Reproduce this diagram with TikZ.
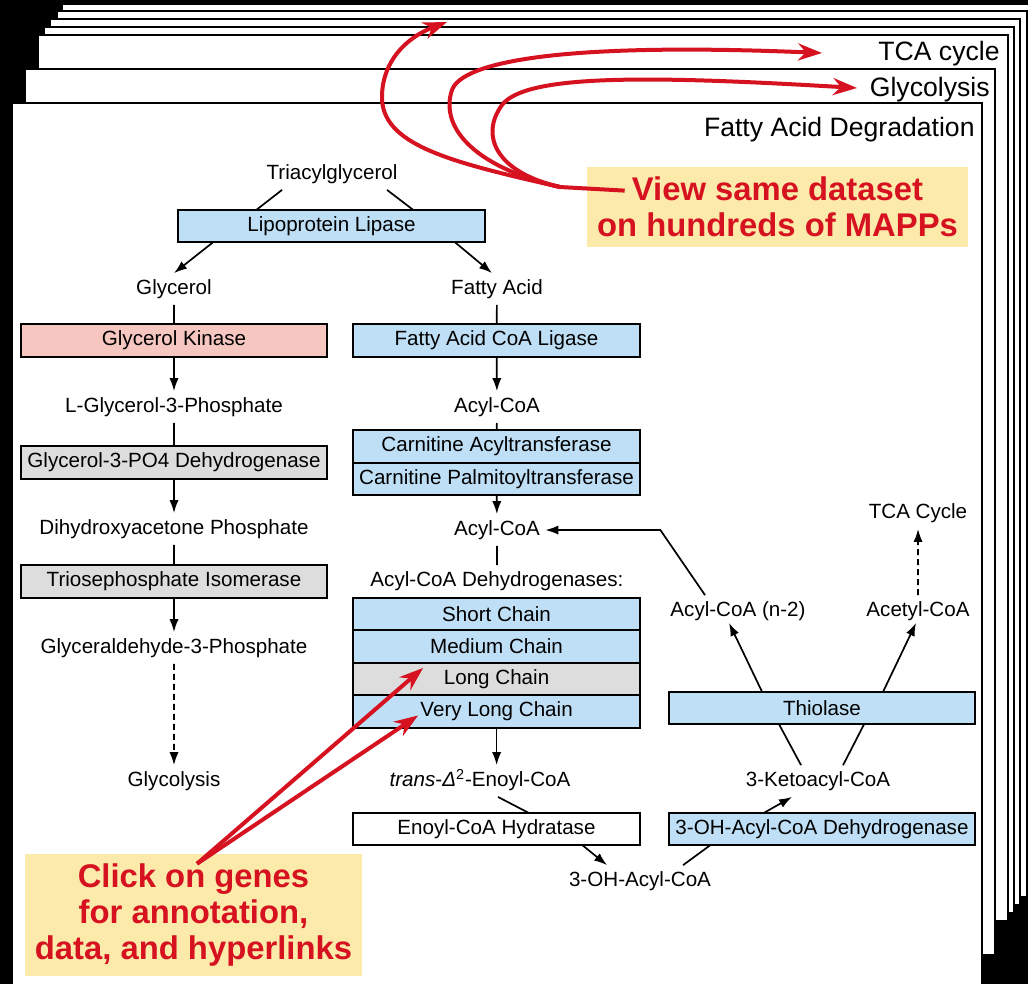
\documentclass[tikz,border=0pt]{standalone}
\usepackage{fontspec}
\setmainfont{Liberation Sans}
\usetikzlibrary{arrows.meta,positioning,calc}

\definecolor{enzblue}{RGB}{190,223,245}
\definecolor{enzpink}{RGB}{246,198,192}
\definecolor{enzgray}{RGB}{221,221,221}
\definecolor{notered}{RGB}{214,18,32}
\definecolor{noteyellow}{RGB}{252,234,170}

\tikzset{
  lbl/.style={font=\fontsize{10.3}{12}\selectfont, inner sep=2.5pt, text height=8pt, text depth=2.5pt},
  enz/.style={draw, line width=1pt, outer sep=0pt, inner sep=0pt, minimum height=16.25pt, font=\fontsize{10.3}{12}\selectfont},
  enzL/.style={enz, minimum width=153pt},
  enzR/.style={enz, minimum width=143.5pt},
  rxn/.style={line width=0.85pt},
  rxnarr/.style={line width=0.85pt, -{Latex[length=6.5pt,width=4.6pt]}},
  page/.style={fill=white, draw=black, line width=1pt},
  pagetitle/.style={font=\fontsize{13.3}{16}\selectfont, anchor=east, inner sep=0pt, text height=10pt, text depth=3pt},
  note/.style={fill=noteyellow, text=notered, font=\fontsize{16.4}{17.8}\selectfont\bfseries, align=center, inner sep=0pt},
  notearr/.style={draw=notered, line width=2pt, -{Stealth[length=12pt,width=8.5pt]}},
}

\begin{document}
\begin{tikzpicture}[x=0.75pt,y=0.75pt,yscale=-0.6667,xscale=0.6667]
\path[use as bounding box] (0,0) rectangle (1028,984);
\clip (0,0) rectangle (1028,984);
\fill[black] (0,0) rectangle (1028,984);

%Shape: Rectangle (stack of pages)
\draw[page] (62,4) rectangle ++(970,886);
\draw[page] (57,11) rectangle ++(970,886);
\draw[page] (50,19) rectangle ++(970,886);
\draw[page] (44,27) rectangle ++(970,886);
\draw[page] (38,35) rectangle ++(970,886);
\draw[page] (25,69) rectangle ++(970,886);
\draw[page] (12,103) rectangle ++(970,886);

% Text Node
\node[pagetitle] (tcatitle) at (1000,53) {TCA cycle};
% Text Node
\node[pagetitle] (glytitle) at (990,89) {Glycolysis};
% Text Node
\node[pagetitle] (fadtitle) at (975,129) {Fatty Acid Degradation};

% Text Node
\node[lbl] (tag) at (332,174) {Triacylglycerol};
\node[enz, fill=enzblue, minimum width=153.5pt] (lpl) at (331.5,226) {Lipoprotein Lipase};
\node[lbl] (gly) at (174,289) {Glycerol};
\node[lbl] (fa) at (497,289) {Fatty Acid};

% glycerol side
\node[enzL, fill=enzpink] (gk) at (174,340.5) {Glycerol Kinase};
\node[lbl] (g3p) at (174,407) {L-Glycerol-3-Phosphate};
\node[enzL, fill=enzgray] (g3pdh) at (174,462.5) {Glycerol-3-PO4 Dehydrogenase};
\node[lbl] (dhap) at (174,529) {Dihydroxyacetone Phosphate};
\node[enzL, fill=enzgray] (tpi) at (174,581.5) {Triosephosphate Isomerase};
\node[lbl] (ga3p) at (174,648) {Glyceraldehyde-3-Phosphate};
\node[lbl] (glyc) at (174,781) {Glycolysis};

% fatty acid side
\node[enzR, fill=enzblue] (facl) at (496.5,340.5) {Fatty Acid CoA Ligase};
\node[lbl] (acoa) at (497,407) {Acyl-CoA};
\node[enzR, fill=enzblue] (cat) at (496.5,446.5) {Carnitine Acyltransferase};
\node[enzR, fill=enzblue, below=0pt of cat] (cpt) {Carnitine Palmitoyltransferase};
\node[lbl] (acoab) at (497,530) {Acyl-CoA};
\node[lbl] (acad) at (497,581) {Acyl-CoA Dehydrogenases:};
\node[enzR, fill=enzblue] (scad) at (496.5,614) {Short Chain};
\node[enzR, fill=enzblue, below=0pt of scad] (mcad) {Medium Chain};
\node[enzR, fill=enzgray, below=0pt of mcad] (lcad) {Long Chain};
\node[enzR, fill=enzblue, below=0pt of lcad] (vlcad) {Very Long Chain};
\node[lbl] (enoyl) at (480,781) {\textit{trans}-\textit{Δ}\textsuperscript{2}-Enoyl-CoA};
\node[enzR, fill=white] (ech) at (496.5,829) {Enoyl-CoA Hydratase};
\node[lbl] (ohacyl) at (640,881) {3-OH-Acyl-CoA};

% thiolase side
\node[lbl] (tca) at (918,513) {TCA Cycle};
\node[lbl] (acn2) at (738,611) {Acyl-CoA (n-2)};
\node[lbl] (accoa) at (918,611) {Acetyl-CoA};
\node[enzL, fill=enzblue] (thio) at (822,708) {Thiolase};
\node[lbl] (keto) at (818,781) {3-Ketoacyl-CoA};
\node[enzL, fill=enzblue] (hadh) at (822,829) {3-OH-Acyl-CoA Dehydrogenase};

%Straight Lines
\draw[rxn] ($(tag.south)+(-50,0)$) -- ($(lpl.north)+(-75,0)$);
\draw[rxn] ($(tag.south)+(55,0)$) -- ($(lpl.north)+(81.5,0)$);
\draw[rxnarr] ($(lpl.south)+(-118.5,0)$) -- (gly.north);
\draw[rxnarr] ($(lpl.south)+(123.5,0)$) -- ($(fa.north)+(-5,0)$);

%Straight Lines
\draw[rxn] (gly) -- (gk);
\draw[rxnarr] (gk) -- (g3p);
\draw[rxn] (g3p) -- (g3pdh);
\draw[rxnarr] (g3pdh) -- (dhap);
\draw[rxn] (dhap) -- (tpi);
\draw[rxnarr] (tpi) -- (ga3p);
\draw[rxnarr, dash pattern=on 3pt off 2pt] (ga3p) -- (glyc);

%Straight Lines
\draw[rxn] (fa) -- (facl);
\draw[rxnarr] (facl) -- (acoa);
\draw[rxn] (acoa) -- (cat);
\draw[rxnarr] (cpt) -- (acoab);
\draw[rxn] (acoab) -- (acad);
\draw[rxnarr] (vlcad.south) -- (vlcad.south |- enoyl.north);
\draw[rxn] ($(enoyl.south)+(18,0)$) -- ($(ech.north)+(32,0)$);
\draw[rxnarr] ($(ech.south)+(86,0)$) -- ($(ohacyl.north)+(-33,0)$);
\draw[rxn] ($(ohacyl.north)+(43,0)$) -- ($(hadh.south)+(-112,0)$);
\draw[rxnarr] ($(hadh.north)+(-58,0)$) -- ($(keto.south)+(-26,0)$);
\draw[rxn] ($(keto.north)+(-17,0)$) -- ($(thio.south)+(-43,0)$);
\draw[rxn] ($(keto.north)+(25,0)$) -- ($(thio.south)+(42,0)$);
\draw[rxnarr] ($(thio.north)+(-60,0)$) -- ($(acn2.south)+(-9,-4)$);
\draw[rxnarr] ($(thio.north)+(61,0)$) -- ($(accoa.south)+(-2,-4)$);
\coordinate (recycle) at ($(acoab.east)+(115,0)$);
\draw[rxnarr] ($(acn2.north)+(-33,0)$) -- (recycle) -- (acoab.east);
\draw[rxnarr, dash pattern=on 3pt off 2pt] (accoa) -- (tca);

% Text Node
\node[note, minimum width=190.5pt, minimum height=40pt] (view) at (777.5,207) {View same dataset\\on hundreds of MAPPs};
% Text Node
\node[note, minimum width=168.5pt, minimum height=61pt] (click) at (193.5,915) {Click on genes\\for annotation,\\data, and hyperlinks};

%Curve Lines
\coordinate (viewfoot) at ($(view.north west)+(38,24)$);
\coordinate (fork) at (560,187);
\coordinate (tipA) at (447,22);
\coordinate (tipB) at (822,53);
\coordinate (tipC) at (857,88);
\draw[draw=notered, line width=2pt] (viewfoot) -- (fork);
\draw[notearr] (fork) .. controls (450,162) and (380,145) .. (382,95) .. controls (383,62) and (405,38) .. (tipA);
\draw[notearr] (fork) .. controls (470,166) and (440,125) .. (452,90) .. controls (462,62) and (560,42) .. (tipB);
\draw[notearr] (fork) .. controls (495,172) and (480,135) .. (502,105) .. controls (525,75) and (640,75) .. (tipC);

%Straight Lines
\coordinate (clickfoot) at ($(click.north)+(3.5,10)$);
\coordinate (tipL) at ($(lcad.north west)+(70,5)$);
\coordinate (tipV) at ($(vlcad.north west)+(65,20)$);
\draw[notearr] (clickfoot) -- (tipL);
\draw[notearr] (clickfoot) -- (tipV);

\end{tikzpicture}
\end{document}
